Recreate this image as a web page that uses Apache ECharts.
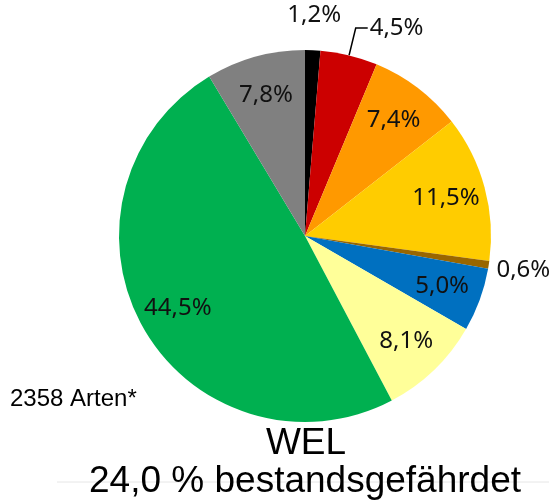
<!DOCTYPE html>
<html>
<head>
<meta charset="utf-8">
<script src="https://cdn.jsdelivr.net/npm/echarts@6/dist/echarts.min.js"></script>
<style>
  html, body { margin: 0; padding: 0; background: #fff; }
  #myChart { width: 549px; height: 502px; }
</style>
</head>
<body>
<div id="myChart"></div>
<script>
// Rote-Liste-Kategorien, im Uhrzeigersinn ab 12 Uhr
const categories = ['0', '1', '2', '3', 'G', 'R', 'V', '*', 'D']
const shares = [1.2, 4.5, 7.4, 11.5, 0.6, 5.0, 8.1, 44.5, 7.8]
const colors = ['#000000', '#cc0000', '#ff9900', '#ffcc00', '#996600', '#0070c0', '#ffff99', '#00b050', '#808080']
// wo die Beschriftung steht
const labelPlace = ['outer', 'line', 'inner', 'inner', 'outer', 'inner', 'inner', 'inner', 'inner']

const artenText = '2358 Arten*'
const titleText = 'WEL'
const subText = '24,0 % bestandsgefährdet'

const labelFont = { fontFamily: 'Noto Sans', fontSize: 24, color: '#111' }

function pct (v) {
  return v.toFixed(1).replace('.', ',') + '%'
}

function buildData (place, colored) {
  return categories.map(function (c, i) {
    let item = { name: c, value: shares[i] }
    item.itemStyle = colored ? { color: colors[i] } : { color: 'rgba(0,0,0,0)' }
    item.label = { show: labelPlace[i] === place }
    if (place === 'line') {
      item.labelLine = { show: labelPlace[i] === 'line' }
    }
    return item
  })
}

let myChart = echarts.init(document.getElementById('myChart'))

let options = {
  animation: false,
  backgroundColor: '#fff',
  series: [
    {
      // die eigentliche Torte, mit Führungslinie für 4,5%
      type: 'pie',
      center: [305, 236],
      radius: [0, 186],
      startAngle: 90,
      clockwise: true,
      silent: true,
      label: Object.assign({
        position: 'outside',
        formatter: function (p) { return pct(p.value) },
        distanceToLabelLine: 2,
        padding: [0, 0, 14, 0]
      }, labelFont),
      labelLine: {
        length: 28,
        length2: 12,
        lineStyle: { color: '#000', width: 1.5 }
      },
      data: buildData('line', true)
    },
    {
      // Beschriftungen innen
      type: 'pie',
      center: [305, 236],
      radius: [100, 186],
      startAngle: 90,
      silent: true,
      label: Object.assign({
        position: 'inside',
        formatter: function (p) { return pct(p.value) }
      }, labelFont),
      data: buildData('inner', false)
    },
    {
      // Beschriftungen knapp außerhalb (1,2% und 0,6%)
      type: 'pie',
      center: [305, 236],
      radius: [190, 246],
      startAngle: 90,
      silent: true,
      label: Object.assign({
        position: 'inside',
        formatter: function (p) { return pct(p.value) }
      }, labelFont),
      data: buildData('outer', false)
    }
  ],
  graphic: [
    {
      type: 'line',
      silent: true,
      shape: { x1: 57, y1: 482, x2: 549, y2: 482 },
      style: { stroke: '#e6e6e6', lineWidth: 1 }
    },
    {
      type: 'text',
      x: 10,
      y: 399,
      style: {
        text: artenText,
        font: '24px "Liberation Sans", Arial, sans-serif',
        fill: '#000',
        textAlign: 'left',
        textVerticalAlign: 'middle'
      }
    },
    {
      type: 'text',
      x: 306,
      y: 444,
      style: {
        text: titleText,
        font: '37px "Liberation Sans", Arial, sans-serif',
        fill: '#000',
        textAlign: 'center',
        textVerticalAlign: 'middle'
      }
    },
    {
      type: 'text',
      x: 305,
      y: 482,
      style: {
        text: subText,
        font: '37px "Liberation Sans", Arial, sans-serif',
        fill: '#000',
        textAlign: 'center',
        textVerticalAlign: 'middle'
      }
    }
  ]
}

myChart.setOption(options)
</script>
</body>
</html>
